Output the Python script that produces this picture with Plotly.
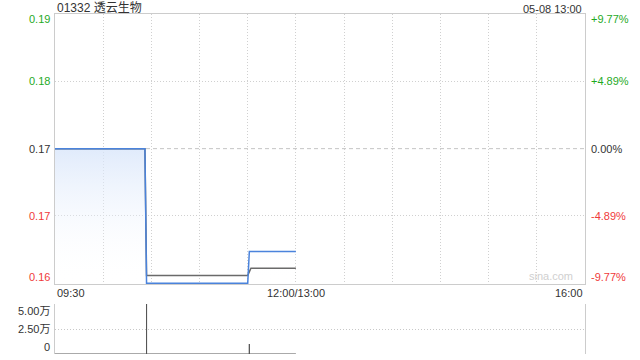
import plotly.graph_objects as go

# ---- data ----
title_text = "01332 透云生物"
stamp_text = "05-08 13:00"
prev_close = 0.174

# minutes after 09:30 (trading minutes, 0..330)
price_times = [0, 56, 57, 120, 121, 150]
price_values = [0.174, 0.174, 0.157, 0.157, 0.161, 0.161]
avg_times = [0, 56, 57, 120, 122, 150]
avg_values = [0.174, 0.174, 0.158, 0.158, 0.1589, 0.1589]

vol_times = [57, 121]
vol_values = [50000, 10000]
session_end = 150  # 12:00

price_ticks = [0.191, 0.1825, 0.174, 0.1655, 0.157]
price_labels = ["0.19", "0.18", "0.17", "0.17", "0.16"]
pct_labels = ["+9.77%", "+4.89%", "0.00%", "-4.89%", "-9.77%"]
vol_ticks = [50000, 25000, 0]
vol_labels = ["5.00万", "2.50万", "0"]
x_label_vals = [0, 150, 330]
x_labels = ["09:30", "12:00/13:00", "16:00"]

GREEN = "#1faa1f"
RED = "#f03a3a"
DARK = "#333333"
FONT = "Liberation Sans, Arial, Noto Sans CJK SC, sans-serif"
DOT = "1px,2px"

ymin, ymax = min(price_ticks), max(price_ticks)
pad = (ymax - ymin) / 270 * 0.7  # keep the bottom line visible

fig = go.Figure()

# baseline for gradient fill
fig.add_trace(go.Scatter(x=[price_times[0], price_times[-1]], y=[ymin, ymin],
                         mode="lines", line=dict(width=0), hoverinfo="skip",
                         showlegend=False, xaxis="x", yaxis="y"))
fig.add_trace(go.Scatter(
    x=price_times, y=price_values, mode="lines",
    line=dict(color="#4a83dc", width=0),
    fill="tonexty",
    fillgradient=dict(type="vertical",
                      colorscale=[[0, "rgba(255,255,255,0.0)"], [1, "rgba(214,228,250,0.75)"]],
                      start=ymin, stop=prev_close),
    hoverinfo="skip", showlegend=False, xaxis="x", yaxis="y"))
fig.add_trace(go.Scatter(x=avg_times, y=avg_values, mode="lines",
                         line=dict(color="#6a6a6a", width=1.5),
                         showlegend=False, xaxis="x", yaxis="y"))
fig.add_trace(go.Scatter(x=price_times, y=price_values, mode="lines",
                         line=dict(color="#4a83dc", width=1.5),
                         showlegend=False, xaxis="x", yaxis="y"))

# volume spikes drawn as a continuous line along the baseline
vx, vy = [0], [0]
for t, v in zip(vol_times, vol_values):
    vx += [t, t, t]
    vy += [0, v, 0]
vx.append(session_end)
vy.append(0)
fig.add_trace(go.Scatter(x=vx, y=vy, mode="lines", line=dict(color="#555555", width=1),
                         showlegend=False, xaxis="x2", yaxis="y2"))

main_bottom = (354 - 284) / 340
vol_top = (354 - 304) / 340

fig.update_layout(
    width=640, height=360,
    margin=dict(l=55, r=55, t=14, b=6),
    paper_bgcolor="white", plot_bgcolor="white",
    font=dict(family=FONT, size=11, color=DARK),
    xaxis=dict(domain=[0, 1], range=[0, 330], tickvals=list(range(0, 331, 30)),
               showticklabels=False, ticks="", showgrid=True, gridcolor="#d0d0d0",
               griddash=DOT, gridwidth=1, zeroline=False, layer="below traces",
               showline=True, mirror=True, linecolor="#cccccc", linewidth=1, anchor="y"),
    yaxis=dict(domain=[main_bottom, 1], range=[ymin - pad, ymax], tickvals=[0.1655, 0.1825],
               showticklabels=False, ticks="", showgrid=True, gridcolor="#d0d0d0",
               griddash=DOT, zeroline=False, showline=True, mirror=True, layer="below traces",
               linecolor="#cccccc", linewidth=1, anchor="x"),
    xaxis2=dict(domain=[0, 1], range=[0, 330], showticklabels=False, ticks="",
                showgrid=False, zeroline=False, showline=False, anchor="y2"),
    yaxis2=dict(domain=[0, vol_top], range=[0, max(vol_ticks)], tickvals=vol_ticks,
                showticklabels=False, ticks="", showgrid=True, gridcolor="#c8c8c8",
                griddash=DOT, zeroline=False, showline=True, mirror=True, layer="below traces",
                linecolor="#cccccc", linewidth=1, anchor="x2"),
    shapes=[dict(type="line", xref="x", yref="y", x0=0, x1=330, y0=prev_close, y1=prev_close,
                 line=dict(color="#c4c4c4", width=1, dash="4px,3px"), layer="below")],
)

ann = []
ann.append(dict(text=title_text, xref="paper", yref="paper", x=0, y=1, xanchor="left",
                yanchor="bottom", yshift=-3, showarrow=False, font=dict(size=12, color=DARK)))
ann.append(dict(text=stamp_text, xref="paper", yref="paper", x=1, y=1, xanchor="right",
                yanchor="bottom", xshift=-1, yshift=-3, showarrow=False, font=dict(size=11, color=DARK)))

colors = [GREEN, GREEN, DARK, RED, RED]
shifts = [-5, 0, 0, 0, 6]
for v, pl, pc, c, s in zip(price_ticks, price_labels, pct_labels, colors, shifts):
    ann.append(dict(text=pl, xref="paper", yref="y", x=0, y=v, xanchor="right", yanchor="middle",
                    xshift=-3, yshift=s, showarrow=False, font=dict(size=11, color=c)))
    ann.append(dict(text=pc, xref="paper", yref="y", x=1, y=v, xanchor="left", yanchor="middle",
                    xshift=4, yshift=s, showarrow=False, font=dict(size=11, color=c)))

vshifts = [-7, 0, 7]
for v, l, s in zip(vol_ticks, vol_labels, vshifts):
    ann.append(dict(text=l, xref="paper", yref="y2", x=0, y=v, xanchor="right", yanchor="middle",
                    xshift=-3, yshift=s, showarrow=False, font=dict(size=11, color=DARK)))

anchors = ["left", "center", "right"]
for v, l, a in zip(x_label_vals, x_labels, anchors):
    ann.append(dict(text=l, xref="x", yref="paper", x=v, y=main_bottom, xanchor=a, yanchor="top",
                    yshift=-1, showarrow=False, font=dict(size=11, color=DARK)))

ann.append(dict(text="sina.com", xref="paper", yref="y", x=1, y=ymin, xanchor="right",
                yanchor="bottom", xshift=-10, yshift=-1, showarrow=False,
                font=dict(size=11, color="#d0d0d0")))

fig.update_layout(annotations=ann)
fig.write_html("out.html", config={"displayModeBar": False},
               post_script="document.body.style.margin='0px';")
